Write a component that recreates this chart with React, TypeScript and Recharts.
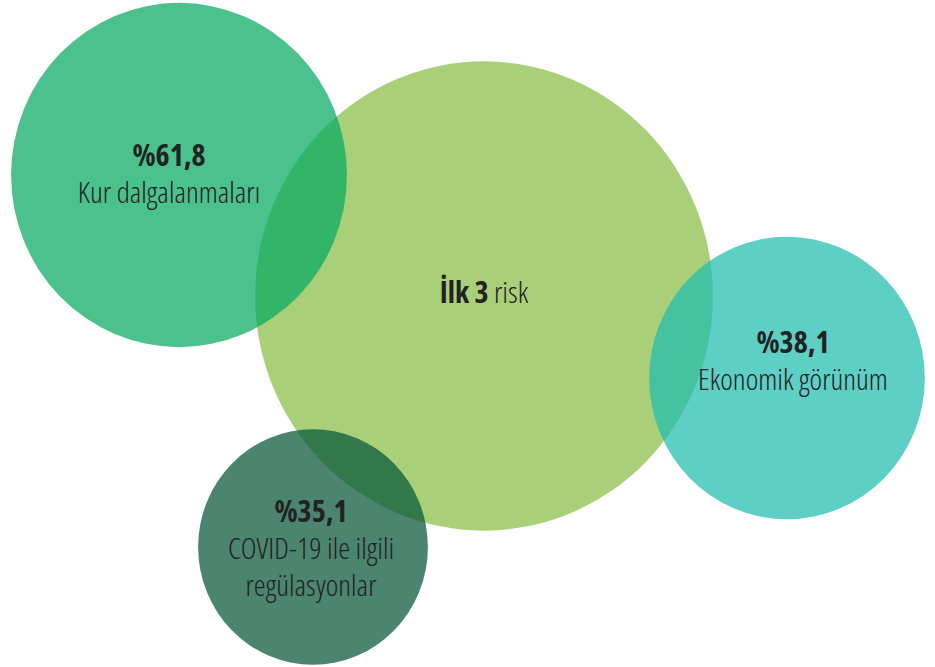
import { ScatterChart, Scatter, XAxis, YAxis, ZAxis, Cell } from 'recharts';

// bubble centres, in picture units (x right, y down), and relative areas
const bubbleNames = ['İlk 3 risk', 'Kur dalgalanmaları', 'Ekonomik görünüm', 'COVID-19 ile ilgili regülasyonlar'];
const bubbleX = [484, 179, 787, 313];
const bubbleY = [296, 175, 378, 547];
const bubbleArea = [524, 282, 190, 132];
const bubbleColors = ['#a9cf79', '#06aa62', '#1fbcad', '#065639'];
const bubbleOpacity = [1, 0.72, 0.72, 0.72];

// labels
const labelValues = ['', '%61,8', '%38,1', '%35,1'];
const labelLines = [['risk'], ['Kur dalgalanmaları'], ['Ekonomik görünüm'], ['COVID-19 ile ilgili', 'regülasyonlar']];
const labelX = [484, 169, 793, 311];
const labelY = [303, 166, 353, 522];

const bubbles = bubbleNames.map((name, i) => ({ name, x: bubbleX[i], y: bubbleY[i], z: bubbleArea[i] }));
const labels = bubbleNames.map((name, i) => ({ name, x: labelX[i], y: labelY[i], value: labelValues[i], lines: labelLines[i] }));

const FONT = '"Open Sans", sans-serif';

const Bubble = (props: any) => {
  const r = Math.sqrt(props.size / Math.PI);
  return <ellipse cx={props.cx} cy={props.cy} rx={r} ry={r * 1.025} fill={props.fill} fillOpacity={props.fillOpacity} />;
};

const Label = (props: any) => {
  const { cx, cy, payload } = props;
  const textProps = { fontFamily: FONT, fontSize: 30, fill: '#222', textAnchor: 'middle' as const, style: { fontStretch: '75%' } };
  if (payload.value === '') {
    // center bubble: "İlk 3 risk"
    return (
      <text x={cx} y={cy} {...textProps}>
        <tspan fontWeight={700}>İlk 3 </tspan>
        <tspan fontWeight={300}>{payload.lines[0]}</tspan>
      </text>
    );
  }
  return (
    <g>
      <text x={cx} y={cy} {...textProps} fontWeight={700}>{payload.value}</text>
      {payload.lines.map((l: string, i: number) => (
        <text key={i} x={cx} y={cy + 37 * (i + 1)} {...textProps} fontWeight={300}>{l}</text>
      ))}
    </g>
  );
};

export default function App() {
  return (
    <div style={{ position: 'absolute', left: 0, top: 0, background: '#fff' }}>
      <ScatterChart width={935} height={667} margin={{ top: 0, right: 0, bottom: 0, left: 0 }}>
        <XAxis type="number" dataKey="x" domain={[0, 935]} hide />
        <YAxis type="number" dataKey="y" domain={[0, 667]} reversed hide />
        <ZAxis type="number" dataKey="z" domain={[0, 1000]} range={[0, 1000 * 100 * Math.PI]} />
        <Scatter data={bubbles} shape={<Bubble />} isAnimationActive={false}>
          {bubbles.map((b, i) => (
            <Cell key={b.name} fill={bubbleColors[i]} fillOpacity={bubbleOpacity[i]} />
          ))}
        </Scatter>
        <Scatter data={labels} shape={<Label />} isAnimationActive={false} />
      </ScatterChart>
    </div>
  );
}
